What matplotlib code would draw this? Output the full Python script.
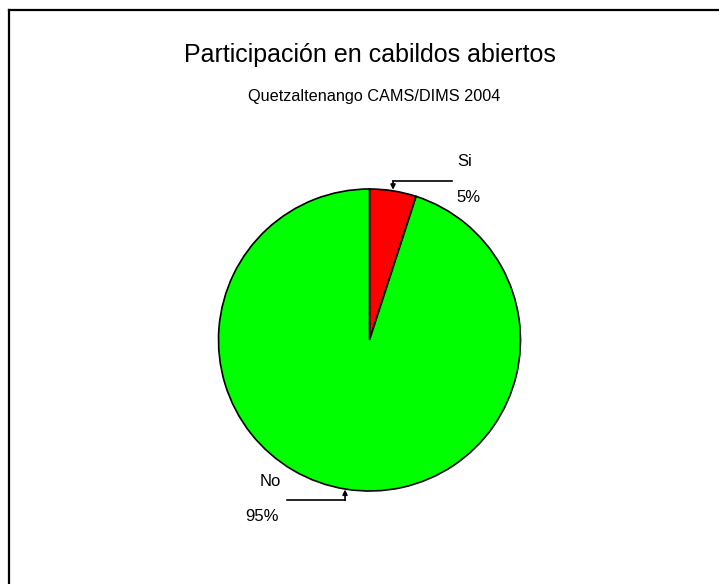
import numpy as np
from matplotlib import pyplot as plt
from matplotlib.lines import Line2D

# data
labels = ["Si", "No"]
percents = [5, 95]
colors = ["#ff0000", "#00ff00"]

W, H = 719, 584
plt.rcParams["font.family"] = ["Liberation Sans", "DejaVu Sans"]
fig = plt.figure(figsize=(W / 100, H / 100), dpi=100)

# frame lines (top and left) in pixel coords
def px(x, y):
    return x / W, 1 - y / H

fig.add_artist(Line2D([px(8.5, 9.5)[0], 1.0], [px(8.5, 9.5)[1]] * 2, color="black", lw=1.6,
                      transform=fig.transFigure))
fig.add_artist(Line2D([px(8.5, 9.5)[0]] * 2, [px(8.5, 9.5)[1], 0.0], color="black", lw=1.6,
                      transform=fig.transFigure))

fig.text(0.5 + (369.5 - W / 2) / W, 1 - 55 / H, "Participación en cabildos abiertos",
         ha="center", va="center", fontsize=18)
fig.text(0.5 + (374.5 - W / 2) / W, 1 - 96.5 / H, "Quetzaltenango CAMS/DIMS 2004",
         ha="center", va="center", fontsize=11.7)

# pie axes: centre (369.5, 340) px, radius 151 px
r = 151
cy = 340
ax = fig.add_axes([(369.5 - r) / W, (H - cy - r) / H, 2 * r / W, 2 * r / H])

wedges, _ = ax.pie(percents, colors=colors, startangle=90, counterclock=False,
                   radius=1, wedgeprops=dict(edgecolor="black", linewidth=1.2))
for w in wedges:
    w.set_clip_on(False)
ax.set_xlim(-1, 1)
ax.set_ylim(-1, 1)
ax.axis("off")

# leader lines and labels
ann = {
    "Si": dict(tip=(0.156, 0.995), corner=(0.156, 1.053), end=(0.546, 1.053),
               lab=(0.629, 1.179), pct=(0.656, 0.947)),
    "No": dict(tip=(-0.162, -0.99), corner=(-0.162, -1.06), end=(-0.546, -1.06),
               lab=(-0.659, -0.934), pct=(-0.712, -1.166)),
}
for name, p in zip(labels, percents):
    a = ann[name]
    ax.plot([a["end"][0], a["corner"][0]], [a["end"][1], a["corner"][1]],
            color="black", lw=1.2, clip_on=False)
    ax.annotate("", xy=a["tip"], xytext=a["corner"],
                arrowprops=dict(arrowstyle="-|>", color="black", lw=1.2,
                                mutation_scale=7, shrinkA=0, shrinkB=0),
                annotation_clip=False)
    ax.text(a["lab"][0], a["lab"][1], name, ha="center", va="center", fontsize=12)
    ax.text(a["pct"][0], a["pct"][1], f"{p}%", ha="center", va="center", fontsize=12)

fig.savefig("out.png", dpi=100)
